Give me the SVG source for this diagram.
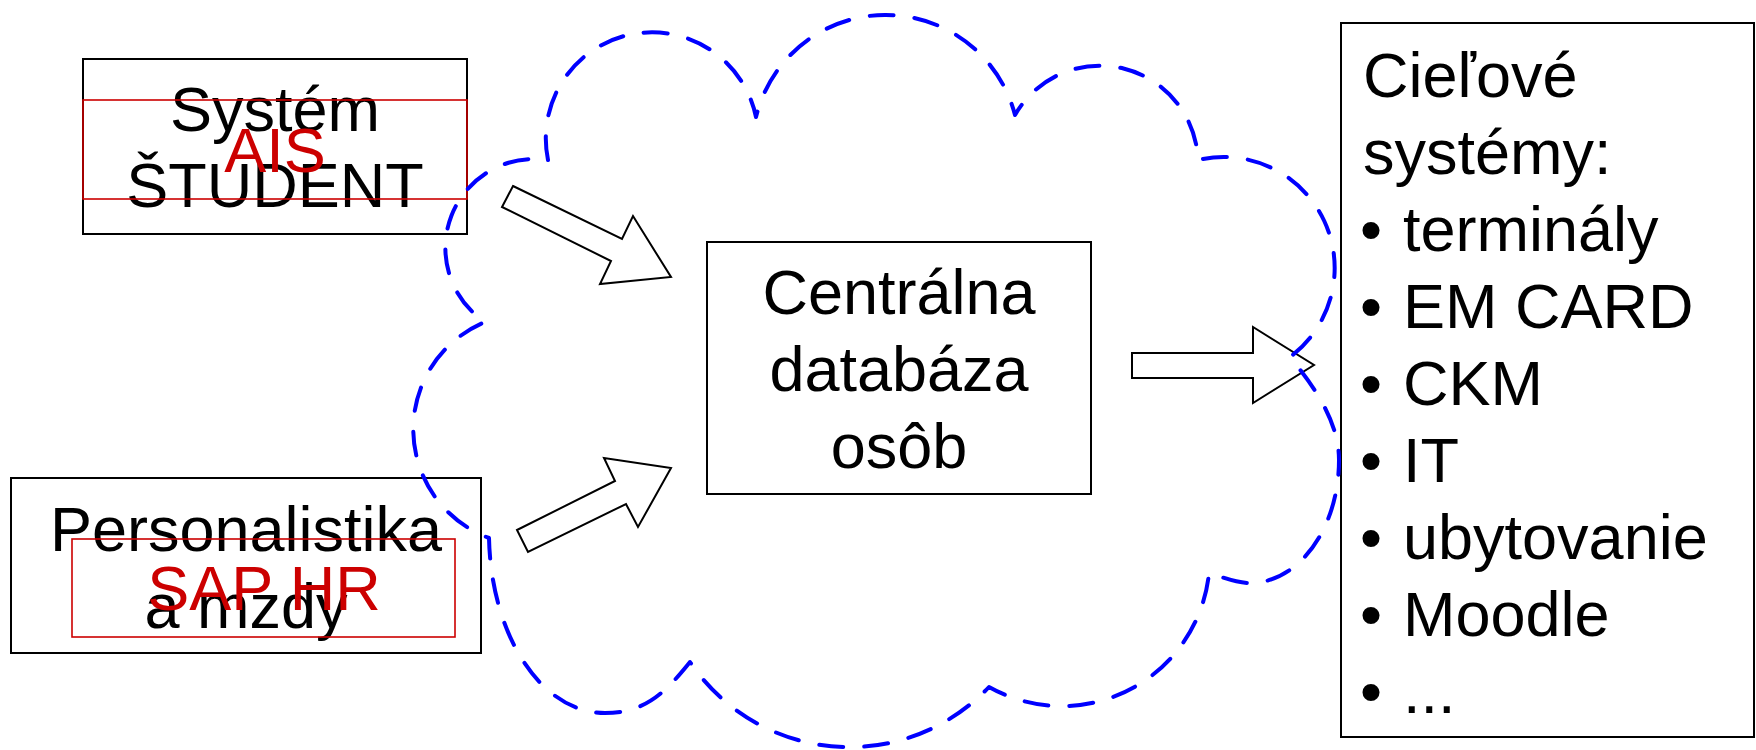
<svg xmlns="http://www.w3.org/2000/svg" width="1756" height="750" viewBox="0 0 1756 750">
<style>
.box{fill:none;stroke:#000;stroke-width:2}
.red{fill:none;stroke:#CC0000;stroke-width:1.6}
.t{font-family:"Liberation Sans",Arial,sans-serif;font-size:63px;fill:#000}
.c{text-anchor:middle}
.rt{fill:#CC0000}
.arr{fill:#fff;stroke:#000;stroke-width:2;stroke-linejoin:miter}
.cloud{fill:none;stroke:#0000FF;stroke-width:4;stroke-linecap:round;stroke-linejoin:round;stroke-dasharray:24 21}
</style>
<rect width="1756" height="750" fill="#fff"/>
<g id="connectors">
<polygon class="arr" points="513,186 622,239 633,216 671,277 600,284 611,261 502,207"/>
<polygon class="arr" points="517,530 615,481 604,458 671,468 638,527 626,504 528,552"/>
<polygon class="arr" points="1132,353 1253,353 1253,327 1314,365 1253,403 1253,378 1132,378"/>
</g>
<g id="ais">
<rect class="box" x="83" y="59" width="384" height="175"/>
<text class="t c" x="275" y="131">Systém</text>
<text class="t c" x="275" y="207">ŠTUDENT</text>
<rect class="red" x="83" y="100" width="384" height="99"/>
<text class="t c rt" x="275" y="172">AIS</text>
</g>
<g id="sap">
<rect class="box" x="11" y="478" width="470" height="175"/>
<text class="t c" x="246" y="551">Personalistika</text>
<text class="t c" x="246" y="628">a mzdy</text>
<rect class="red" x="72" y="539" width="383" height="98"/>
<text class="t c rt" x="264" y="610">SAP HR</text>
</g>
<g id="central">
<rect class="box" x="707" y="242" width="384" height="252"/>
<text class="t c" x="899" y="314">Centrálna</text>
<text class="t c" x="899" y="391">databáza</text>
<text class="t c" x="899" y="468">osôb</text>
</g>
<g id="targets">
<rect class="box" x="1341" y="23" width="413" height="714"/>
<text class="t" x="1363" y="97">Cieľové</text>
<text class="t" x="1363" y="174">systémy:</text>
<text class="t" y="251"><tspan x="1360">•</tspan><tspan x="1403">terminály</tspan></text>
<text class="t" y="328"><tspan x="1360">•</tspan><tspan x="1403">EM CARD</tspan></text>
<text class="t" y="405"><tspan x="1360">•</tspan><tspan x="1403">CKM</tspan></text>
<text class="t" y="482"><tspan x="1360">•</tspan><tspan x="1403">IT</tspan></text>
<text class="t" y="559"><tspan x="1360">•</tspan><tspan x="1403">ubytovanie</tspan></text>
<text class="t" y="636"><tspan x="1360">•</tspan><tspan x="1403">Moodle</tspan></text>
<text class="t" y="713"><tspan x="1360">•</tspan><tspan x="1403">...</tspan></text>
</g>
<g id="cloud">
<path class="cloud" d="M548,160 A106,106 0 0 1 756,117 A133.5,133.5 0 0 1 1015,115 A98,98 0 0 1 1198,160 A111,111 0 0 1 1290,357 C1312,384 1339,420 1339,460 C1339,528 1299,583 1250,583 C1236,583 1222,577 1209,573 A148,148 0 0 1 989,687 A192,192 0 0 1 690,662 C665,693 645,713 605,713 C541,713 491,635 489,538 A116,116 0 0 1 485,322 A89,89 0 0 1 548,160 Z"/>
</g>
</svg>
